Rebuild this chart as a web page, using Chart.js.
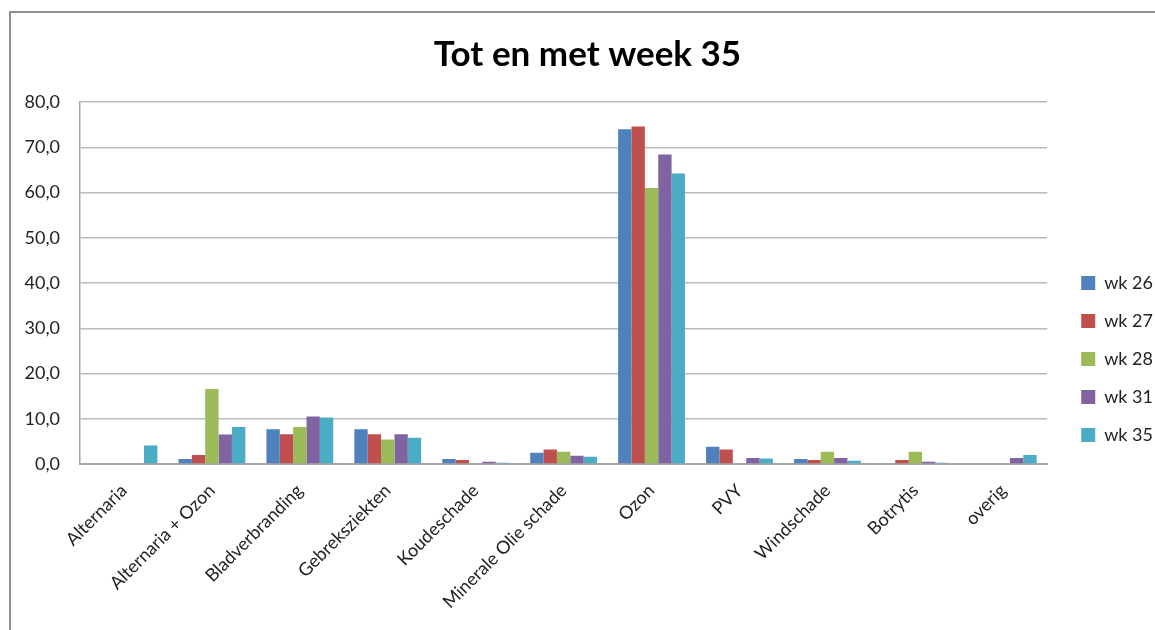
<!DOCTYPE html>
<html>
<head>
<meta charset="utf-8">
<script src="https://cdn.jsdelivr.net/npm/chart.js@4"></script>
<style>
  body { margin: 0; background: #fff; }
  #frame { position: absolute; left: 9px; top: 11px; width: 1200px; height: 700px; border-left: 2px solid #8e8e8e; border-top: 2px solid #8e8e8e; }
  #chart { position: absolute; left: 0; top: 0; }
</style>
</head>
<body>
<div id="frame"></div>
<canvas id="chart" width="1155" height="630"></canvas>
<script>
const categories = ["Alternaria", "Alternaria + Ozon", "Bladverbranding", "Gebreksziekten", "Koudeschade",
    "Minerale Olie schade", "Ozon", "PVY", "Windschade", "Botrytis", "overig"];
const seriesNames = ["wk 26", "wk 27", "wk 28", "wk 31", "wk 35"];
const wk26 = [0, 1.1, 7.7, 7.7, 1.1, 2.5, 74.0, 3.8, 1.1, 0, 0];
const wk27 = [0, 2.0, 6.6, 6.6, 0.9, 3.2, 74.6, 3.2, 0.9, 0.9, 0];
const wk28 = [0, 16.6, 8.2, 5.4, 0, 2.7, 61.0, 0, 2.7, 2.7, 0];
const wk31 = [0, 6.5, 10.5, 6.6, 0.5, 1.8, 68.4, 1.3, 1.3, 0.5, 1.3];
const wk35 = [4.1, 8.2, 10.3, 5.8, 0.3, 1.6, 64.2, 1.2, 0.7, 0.3, 2.0];
const yMin = 0, yMax = 80, yStep = 10;

const colors = ["#4f81bd", "#c0504d", "#9bbb59", "#8064a2", "#4bacc6"];
const seriesValues = [wk26, wk27, wk28, wk31, wk35];

const font = "Lato, 'Open Sans', sans-serif";

new Chart(document.getElementById("chart"), {
    type: "bar",
    data: {
        labels: categories,
        datasets: seriesNames.map((name, i) => ({
            label: name,
            data: seriesValues[i],
            backgroundColor: colors[i],
            borderWidth: 0,
            categoryPercentage: 0.76,
            barPercentage: 1.0
        }))
    },
    options: {
        responsive: false,
        animation: false,
        // negative right padding lets the legend run to the edge and centres the title like the original
        layout: { padding: { left: 12, right: -8, top: 20, bottom: 0 } },
        plugins: {
            title: {
                display: true,
                text: "Tot en met week 35",
                color: "#000",
                font: { family: font, size: 35, weight: "bold" },
                padding: { top: 14, bottom: 26 }
            },
            legend: {
                position: "right",
                // empty title only pushes the items down a bit
                title: { display: true, text: "", font: { size: 10 }, padding: 28 },
                labels: {
                    boxWidth: 14,
                    boxHeight: 14,
                    padding: 20,
                    color: "#222",
                    font: { family: font, size: 18 }
                }
            },
            tooltip: { enabled: false }
        },
        scales: {
            x: {
                grid: { display: false, drawTicks: false },
                border: { color: "#a6a6a6", width: 2 },
                ticks: {
                    color: "#222",
                    font: { family: font, size: 18 },
                    minRotation: 45,
                    maxRotation: 45,
                    padding: 16
                },
                afterFit: s => { s.height = 166; }
            },
            y: {
                min: yMin,
                max: yMax,
                grid: { color: "#bcbcbc", lineWidth: 1.5, drawTicks: false },
                border: { color: "#a6a6a6", width: 1.5 },
                ticks: {
                    stepSize: yStep,
                    color: "#222",
                    font: { family: font, size: 18 },
                    padding: 20,
                    callback: v => v.toFixed(1).replace(".", ",")
                },
                afterFit: s => { s.width = 68; }
            },
            // blank gap between plot and legend
            gap: {
                type: "linear",
                position: "right",
                min: yMin,
                max: yMax,
                grid: { display: false, drawTicks: false },
                border: { display: false },
                ticks: { display: false },
                afterFit: s => { s.width = 14; }
            }
        }
    }
});
</script>
</body>
</html>
